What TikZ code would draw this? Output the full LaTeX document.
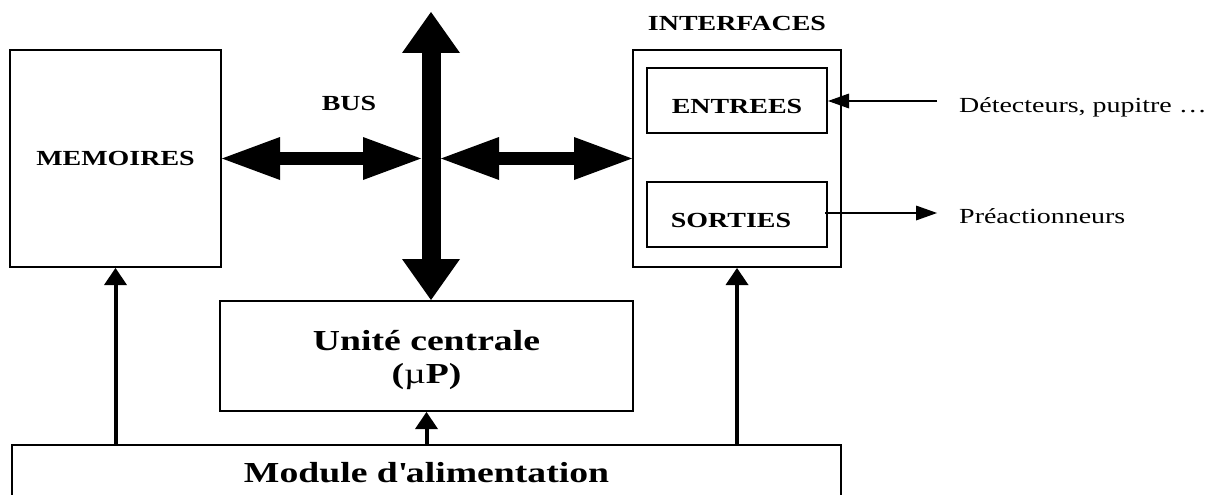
\documentclass[tikz,border=0pt]{standalone}
\usepackage{fontspec}
\setmainfont{Liberation Serif}[FakeStretch=1.3]
\usetikzlibrary{arrows.meta}
\tikzset{
	blocnode/.style = {rectangle, draw=black, line width=2pt, inner sep=0pt,
		align=center, font=\bfseries\fontsize{21.5}{24}\selectfont},
	bloc_g/.style = {blocnode, font=\bfseries\fontsize{29}{33}\selectfont},% grand bloc
	bloc_io/.style = {blocnode, minimum width=180pt, minimum height=65pt,
		text height=26pt},% entrees, sorties
	txt_g/.style = {inner sep=0pt, align=center, font=\bfseries\fontsize{29}{33}\selectfont},% grand texte
	txt_b/.style = {inner sep=0pt, font=\bfseries\fontsize{21.5}{24}\selectfont},% texte gras
	txt_n/.style = {inner sep=0pt, font=\fontsize{21.5}{24}\selectfont},% texte normal
	bus_v/.style = {<->, >={Triangle[length=41pt,width=58pt,line width=0pt]},
		line width=19pt},% bus vertical
	bus_h/.style = {<->, >={Triangle[length=58pt,width=43pt,line width=0pt]},
		line width=13pt},% liaison au bus
	fleche/.style = {->, >={Triangle[length=21pt,width=15pt,line width=0pt]},
		line width=1.5pt},
	alim/.style = {->, >={Triangle[length=17pt,width=23pt,line width=0pt]},
		line width=4pt}% alimentation
}
\begin{document}
\begin{tikzpicture}[x=1pt, y=-1pt]
	\useasboundingbox (0,0) rectangle (1215,495);
	% blocs
	\node[blocnode, minimum width=211pt, minimum height=217pt] (memo) at (115.5,158.5) {MEMOIRES};
	\node[blocnode, minimum width=208pt, minimum height=217pt] (iface) at (737,158.5) {};
	\node[txt_b] (ititre) at (737,23) {INTERFACES};
	\node[bloc_io] (entrees) at (737,100.5) {ENTREES};
	\node[bloc_io] (sorties) at (737,214.5) {SORTIES\hspace*{12pt}};
	\node[bloc_g, minimum width=413pt, minimum height=110pt] (uc) at (426.5,356) {};
	\node[txt_g] (uc_txt) at ([yshift=-4pt]uc.center) {Unité centrale\\(\textmd{µ}P)};
	\node[bloc_g, minimum width=829pt, minimum height=56pt] (alim) at (426.5,473)
		{Module d\textquotesingle alimentation};
	% textes
	\node[txt_b] (bus) at (349,103) {BUS};
	\node[txt_n, anchor=base west] (det) at (959,112) {Détecteurs, pupitre …};
	\node[txt_n, anchor=base west] (preact) at (959,223) {Préactionneurs};
	% points libres
	\coordinate (bus_haut) at (431,12);
	\coordinate (bus_c) at (431,158.5);
	\coordinate (e_in) at (937,101);
	\coordinate (s_out) at (937,213);
	% bus
	\draw[bus_v] (bus_haut) -- (bus_haut |- uc.north);
	\draw[bus_h] (memo.east) -- ([xshift=-10pt]bus_c);
	\draw[bus_h] ([xshift=10pt]bus_c) -- (iface.west);
	% entrees / sorties
	\draw[fleche] (e_in) -- (e_in -| entrees.east);
	\draw[fleche] ([xshift=-3pt]sorties.east |- s_out) -- (s_out);
	% alimentation
	\draw[alim] (memo.south |- alim.north) -- (memo.south);
	\draw[alim] (uc.south |- alim.north) -- (uc.south);
	\draw[alim] (iface.south |- alim.north) -- (iface.south);
\end{tikzpicture}
\end{document}
